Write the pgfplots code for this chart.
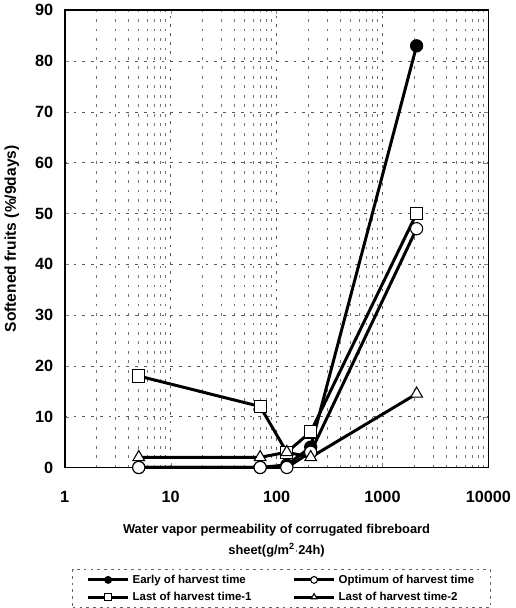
\documentclass[border=0pt]{standalone}
\usepackage{fontspec}
\setmainfont{Liberation Sans}
\usepackage{pgfplots}
\pgfplotsset{compat=1.18}
\begin{document}
\begin{tikzpicture}
\begin{axis}[
  scale only axis,
  width=312.75pt, height=337.5pt,
  xmode=log, log basis x=10,
  xmin=1, xmax=10000, ymin=0, ymax=90,
  xtick={1,10,100,1000,10000},
  xticklabels={1,10,100,1000,10000},
  minor xtick={2,3,4,5,6,7,8,9,20,30,40,50,60,70,80,90,200,300,400,500,600,700,800,900,2000,3000,4000,5000,6000,7000,8000,9000},
  ytick={0,10,...,90},
  /pgf/number format/assume math mode=true,
  tick label style={font=\bfseries\fontsize{12}{13}\selectfont},
  xticklabel style={yshift=-14pt},
  yticklabel style={xshift=-5pt},
  major tick length=3pt, minor tick length=0pt,
  tick align=inside,
  axis line style={line width=1.2pt},
  xmajorgrids, xminorgrids, ymajorgrids,
  major grid style={black!65, line width=0.5pt, dash pattern=on 2pt off 4.5pt},
  minor grid style={black!55, line width=0.5pt, dash pattern=on 2pt off 5pt},
  xlabel={Water vapor permeability of corrugated fibreboard\\sheet(g/m\textsuperscript{2}$\cdot$24h)},
  xlabel style={align=center, font=\bfseries\fontsize{9.5}{16}\selectfont, at={(axis description cs:0.5,0)}, anchor=north, yshift=-38pt},
  ylabel={Softened fruits (\%/9days)},
  ylabel style={font=\bfseries\fontsize{11.5}{13}\selectfont, at={(axis description cs:-0.125,0.5)}, anchor=center, rotate=0},
  legend columns=2,
  legend cell align=left,
  legend style={at={(axis description cs:0.512,-0.222)}, anchor=north,
    draw=black!60, dash pattern=on 2pt off 3pt, line width=0.5pt,
    font=\bfseries\fontsize{8.5}{11}\selectfont,
    /tikz/every even column/.append style={column sep=28pt},
    inner xsep=10pt, inner ysep=2pt, row sep=1pt},
  legend image code/.code={%
    \draw[solid,mark repeat=2,mark phase=2,mark size=2.5pt] plot coordinates {(0pt,0pt)(15pt,0pt)(30pt,0pt)};},
  clip=false,
]
\addplot[solid, black, line width=2.2pt, mark=*, mark size=4.5pt, mark options={solid, fill=black, line width=0.8pt}]
  coordinates {(5,0) (70,0) (125,0.5) (210,4) (2100,83)};
\addlegendentry{Early of harvest time}
\addplot[solid, black, line width=2.2pt, mark=*, mark size=4.5pt, mark options={solid, fill=white, line width=0.8pt}]
  coordinates {(5,0) (70,0) (125,0) (210,3) (2100,47)};
\addlegendentry{Optimum of harvest time}
\addplot[solid, black, line width=2.2pt, mark=square*, mark size=4.5pt, mark options={solid, fill=white, line width=0.8pt}]
  coordinates {(5,18) (70,12) (125,3) (210,7) (2100,50)};
\addlegendentry{Last of harvest time-1}
\addplot[solid, black, line width=2.2pt, mark=triangle*, mark size=5pt, mark options={solid, fill=white, line width=0.8pt}]
  coordinates {(5,2) (70,2) (125,3) (210,2) (2100,14.5)};
\addlegendentry{Last of harvest time-2}
\end{axis}
\end{tikzpicture}
\end{document}
